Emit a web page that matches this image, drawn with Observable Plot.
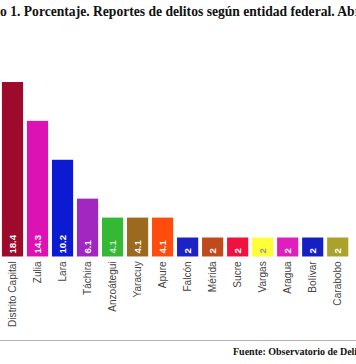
<!DOCTYPE html>
<html><head><meta charset="utf-8">
<script src="https://cdn.jsdelivr.net/npm/d3@7"></script>
<script src="https://cdn.jsdelivr.net/npm/@observablehq/plot@0.6"></script>
<style>
html,body{margin:0;padding:0;background:#fff;overflow:hidden;width:356px;height:364px;position:relative}
#title{position:absolute;left:0;top:1px;width:356px;height:26px;overflow:hidden;white-space:nowrap;font:bold 13.6px "Liberation Serif",serif;line-height:22px;color:#111}
#title span{position:relative}
#chart{position:absolute;left:0;top:27px;width:356px;overflow:hidden}
#rule{position:absolute;left:0;top:339.5px;width:356px;height:0;border-top:1.5px solid #b4b4b4}
#source{position:absolute;left:233px;top:346px;white-space:nowrap;font:bold 10px "Liberation Serif",serif;color:#111}
</style></head>
<body>
<div id="title"><span id="titletext">Gráfico 1. Porcentaje. Reportes de delitos según entidad federal. Abril</span></div>
<div id="chart"></div>
<div id="rule"></div>
<div id="source">Fuente: Observatorio de Delitos</div>
<script>
const estados = ["Distrito Capital","Zulia","Lara","Táchira","Anzoátegui","Yaracuy","Apure","Falcón","Mérida","Sucre","Vargas","Aragua","Bolívar","Carabobo"];
const porcentajes = [18.4,14.3,10.2,6.1,4.1,4.1,4.1,2,2,2,2,2,2,2];
const etiquetas = ["18.4","14.3","10.2","6.1","4.1","4.1","4.1","2","2","2","2","2","2","2"];
const colores = ["#9e0a2c","#dc12b4","#0c1ad2","#a226c0","#35b935","#9c6a1e","#ff4c0c","#1c22c6","#c04a1a","#f0123e","#ffff38","#e01ebe","#1420c2","#aaa22a"];
const coloresEtiqueta = ["#fff","#fff","#fff","#fff","#d8e8d8","#fff","#fff","#fff","#fff","#fff","#9a9a9a","#fff","#fff","#fff"];
const marcasY = [0,2,4,6,8,10,12,14,16,18,20,22,24];

const datos = estados.map((e,i)=>({estado:e, valor:porcentajes[i], etiqueta:etiquetas[i], color:colores[i], colorEtiqueta:coloresEtiqueta[i]}));

// shift title so that it is cropped like the reference
const cv = document.createElement("canvas").getContext("2d");
cv.font = 'bold 13.6px "Liberation Serif"';
document.getElementById("titletext").style.left = (-cv.measureText("Gráfic").width) + "px";

const chart = Plot.plot({
  width: 370, height: 313,
  marginTop: 2, marginBottom: 74.5, marginLeft: 0, marginRight: 0,
  style: {fontFamily: '"Liberation Sans", Arial, sans-serif', background: "transparent"},
  x: {domain: estados, padding: 0.14, range: [-2, 366], axis: null},
  y: {domain: [0, 24], axis: null},
  color: {type: "identity"},
  marks: [
    Plot.gridY(marcasY, {x1: 0, x2: 370, stroke: "#cfcfcf", strokeOpacity: 1, strokeWidth: 1.4}),
    Plot.barY(datos, {x: "estado", y: "valor", fill: "color"}),
    Plot.text(datos, {x: "estado", y: 0, text: "etiqueta", rotate: -90, textAnchor: "start", dy: -3.5, fill: "colorEtiqueta", fontSize: 10, fontWeight: "bold"}),
    Plot.axisX({tickRotate: -90, tickSize: 0, tickPadding: 4.5, fontSize: 10.5, color: "#444", label: null})
  ]
});
document.getElementById("chart").appendChild(chart);
</script>
</body></html>
